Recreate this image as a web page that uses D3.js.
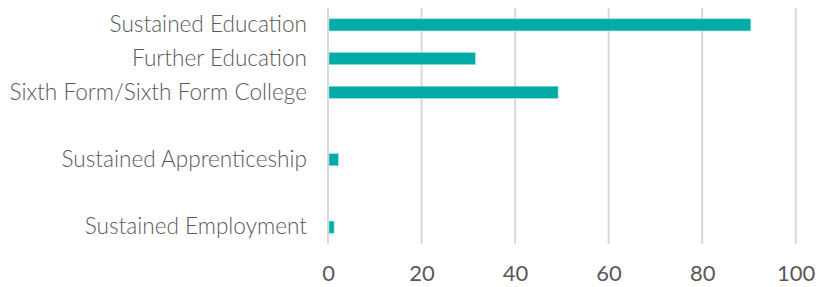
<!DOCTYPE html>
<html>
<head>
<meta charset="utf-8">
<script src="https://cdn.jsdelivr.net/npm/d3@7"></script>
<style>
  body { margin: 0; background: #fff; }
  text { font-family: Lato, "Open Sans", sans-serif; font-weight: 300; fill: #595959; }
</style>
</head>
<body>
<script>
// categories top to bottom, blank rows kept as gaps
var categories = ["Sustained Education", "Further Education", "Sixth Form/Sixth Form College", "gap1", "Sustained Apprenticeship", "gap2", "Sustained Employment"];
var values = [90.4, 31.5, 49.2, null, 2.2, null, 1.3];
var xTicks = [0, 20, 40, 60, 80, 100];

var width = 816, height = 287;
var plotLeft = 328, plotRight = 795.7, plotTop = 8, plotBottom = 244;

var svg = d3.select("body")
    .append("svg")
    .attr("width", width)
    .attr("height", height);

var xScale = d3.scaleLinear().domain([0, 100]).range([plotLeft, plotRight]);
var yScale = d3.scaleBand()
    .domain(categories)
    .range([plotTop, plotBottom])
    .paddingInner(0.64)
    .paddingOuter(0.32);

// vertical gridlines
svg.append("g")
    .selectAll("line")
    .data(xTicks)
    .enter().append("line")
    .attr("x1", function(d) { return xScale(d); })
    .attr("x2", function(d) { return xScale(d); })
    .attr("y1", plotTop)
    .attr("y2", plotBottom)
    .attr("stroke", "#d9d9d9")
    .attr("stroke-width", 2);

// bars
var data = categories.map(function(c, i) { return { cat: c, v: values[i] }; })
    .filter(function(d) { return d.v != null; });

svg.append("g")
    .selectAll("rect")
    .data(data)
    .enter().append("rect")
    .attr("x", xScale(0) + 1)
    .attr("y", function(d) { return yScale(d.cat); })
    .attr("width", function(d) { return xScale(d.v) - xScale(0) - 1; })
    .attr("height", yScale.bandwidth())
    .attr("fill", "#02aba6")
    .attr("stroke", "#9fdedb")
    .attr("stroke-width", 0.6);

// category axis
var yAxis = svg.append("g")
    .attr("transform", "translate(" + plotLeft + ",0)")
    .call(d3.axisLeft(yScale)
        .tickSize(0)
        .tickPadding(21)
        .tickFormat(function(d) { return d.indexOf("gap") === 0 ? "" : d; }));
yAxis.select(".domain").remove();
yAxis.selectAll("text")
    .style("font-size", "22.6px")
    .attr("fill", "#595959");

// value axis
var xAxis = svg.append("g")
    .attr("transform", "translate(0," + plotBottom + ")")
    .call(d3.axisBottom(xScale).tickValues(xTicks).tickSize(0).tickPadding(21));
xAxis.select(".domain").remove();
xAxis.selectAll("text")
    .style("font-size", "22px")
    .style("font-weight", 400)
    .attr("fill", "#595959");
</script>
</body>
</html>
